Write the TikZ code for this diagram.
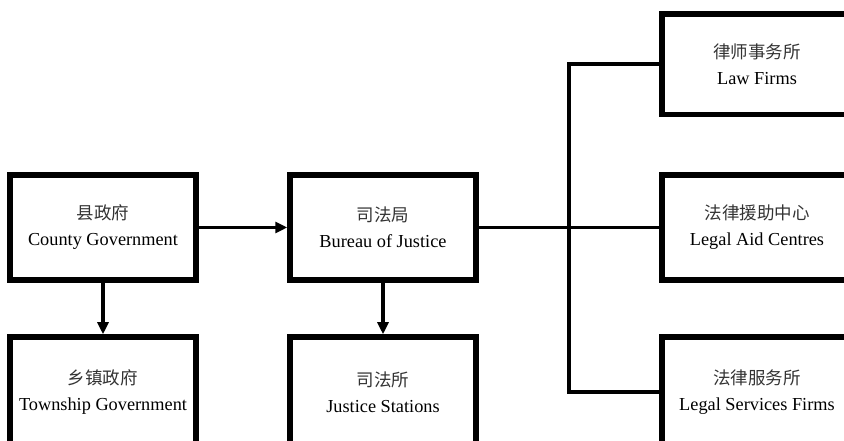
\documentclass[tikz,border=0pt]{standalone}
\usepackage{fontspec}
\setmainfont{Liberation Serif}
\newfontfamily\cjk{Noto Sans CJK SC}
\usetikzlibrary{arrows.meta}
\begin{document}
\begin{tikzpicture}[x=1pt,y=1pt,
  box/.style={draw, line width=5.5pt, minimum width=186pt, minimum height=105pt,
    inner sep=0pt, align=center, font=\fontsize{18.3}{26}\selectfont},
  cn/.style={},
  conn/.style={line width=3.5pt},
  arr/.style={conn, -{Triangle[length=12pt,width=11pt]}}]
\useasboundingbox (0,0) rectangle (844,441);
\clip (0,0) rectangle (844,441);
\newcommand\zh[1]{{\cjk\fontsize{17.5}{26}\selectfont\color{black!80}#1}}
% left column
\node[box] (county) at (103,213.5) {\zh{县政府}\\County Government};
\node[box, minimum height=110pt] (township) at (103,49) {\zh{乡镇政府}\\Township Government};
% middle column
\node[box] (bureau) at (383,213.5) {\zh{司法局}\\Bureau of Justice};
\node[box, minimum height=110pt] (stations) at (383,49) {\zh{司法所}\\Justice Stations};
% right column
\node[box, minimum width=190pt, minimum height=100.5pt] (law) at (757,376.75) {\zh{律师事务所}\\Law Firms};
\node[box, minimum width=190pt] (aid) at (757,213.5) {\zh{法律援助中心}\\Legal Aid Centres};
\node[box, minimum width=190pt, minimum height=110pt] (services) at (757,49) {\zh{法律服务所}\\Legal Services Firms};
% connectors
\coordinate (bus) at (569,213.5);
\draw[arr] (county.east) -- (bureau.west);
\draw[arr] (county.south) -- (township.north);
\draw[arr] (bureau.south) -- (stations.north);
\draw[conn] (bureau.east) -- (aid.west);
\draw[conn, line join=miter] (law.west) -- (law.west -| bus) -- (services.west -| bus) -- (services.west);
\end{tikzpicture}
\end{document}
